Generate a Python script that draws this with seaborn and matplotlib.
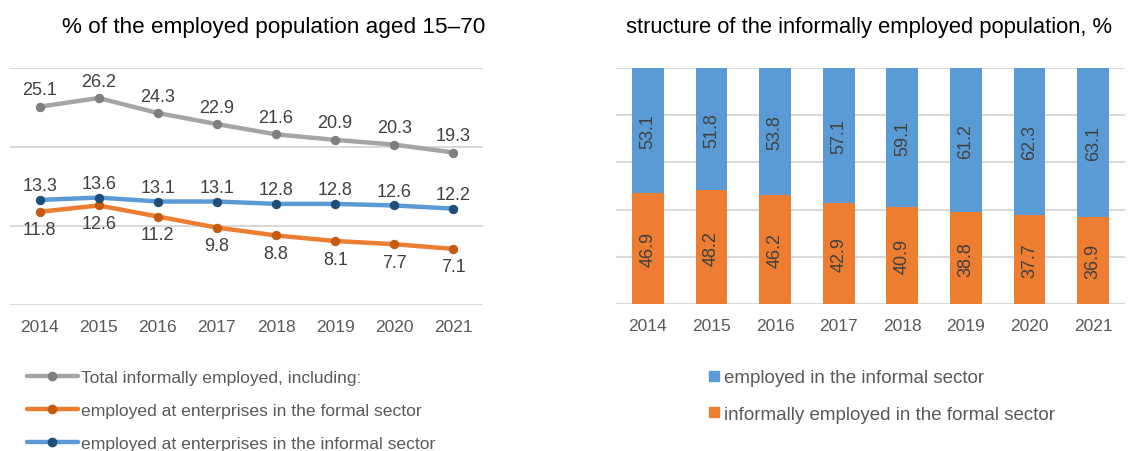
import matplotlib
matplotlib.use("Agg")
import matplotlib.pyplot as plt
from matplotlib.lines import Line2D
import seaborn as sns
import pandas as pd

years = [2014, 2015, 2016, 2017, 2018, 2019, 2020, 2021]
year_labels = [str(y) for y in years]

# % of the employed population aged 15-70
total_informal = [25.1, 26.2, 24.3, 22.9, 21.6, 20.9, 20.3, 19.3]
formal_sector = [11.8, 12.6, 11.2, 9.8, 8.8, 8.1, 7.7, 7.1]
informal_sector = [13.3, 13.6, 13.1, 13.1, 12.8, 12.8, 12.6, 12.2]

# structure of the informally employed population, %
share_informal_sector = [53.1, 51.8, 53.8, 57.1, 59.1, 61.2, 62.3, 63.1]
share_formal_sector = [46.9, 48.2, 46.2, 42.9, 40.9, 38.8, 37.7, 36.9]

line_names = [
    "Total informally employed, including:",
    "employed at enterprises in the formal sector",
    "employed at enterprises in the informal sector",
]
bar_names = ["employed in the informal sector", "informally employed in the formal sector"]

GREY, GREY_D = "#A5A5A5", "#7F7F7F"
ORANGE, ORANGE_D = "#ED7D31", "#C55A11"
BLUE, BLUE_D = "#5B9BD5", "#1F4E79"
TEXT = "#595959"
LABEL = "#404040"
GRID = "#D9D9D9"

sns.set_theme(style="white")
plt.rcParams["font.family"] = ["Liberation Sans", "DejaVu Sans"]

W, H = 1137, 452
fig = plt.figure(figsize=(W / 100, H / 100), dpi=100)
ax1 = fig.add_axes([10 / W, 1 - 306 / H, 473 / W, 237 / H])
ax2 = fig.add_axes([616 / W, 1 - 305 / H, 509 / W, 236 / H])

# ---- left: line chart ----
series = [
    (total_informal, GREY, GREY_D, 17),
    (formal_sector, ORANGE, ORANGE_D, -18),
    (informal_sector, BLUE, BLUE_D, 14),
]
for vals, col, mcol, dy in series:
    df = pd.DataFrame({"year": years, "value": vals})
    sns.lineplot(data=df, x="year", y="value", ax=ax1, color=col, linewidth=3.2,
                 marker="o", markersize=6, markerfacecolor=mcol, markeredgecolor=mcol,
                 solid_capstyle="round")
    for x, v in zip(years, vals):
        ax1.annotate(f"{v:.1f}", (x, v), xytext=(0, dy), textcoords="offset pixels",
                     ha="center", va="center", fontsize=13, color=LABEL)

ax1.set_xlim(2013.5, 2021.5)
ax1.set_ylim(0, 30)
ax1.set_yticks([0, 10, 20, 30])
ax1.set_yticklabels([])
ax1.set_xticks(years)
ax1.set_xticklabels(year_labels, fontsize=12.5, color=TEXT)
ax1.set_xlabel("")
ax1.set_ylabel("")
ax1.grid(axis="y", color=GRID, linewidth=1.5)
ax1.set_axisbelow(True)
for s in ax1.spines.values():
    s.set_visible(False)
ax1.tick_params(axis="both", length=0, pad=10)

fig.text(273.5 / W, 1 - 27 / H, "% of the employed population aged 15\u201370",
         fontsize=16.2, color="black", ha="center", va="center")

handles = [
    Line2D([], [], color=c, lw=3.2, marker="o", markersize=6, markerfacecolor=m,
           markeredgecolor=m, solid_capstyle="round")
    for c, m in [(GREY, GREY_D), (ORANGE, ORANGE_D), (BLUE, BLUE_D)]
]
leg1 = fig.legend(handles, line_names, loc="upper left", bbox_to_anchor=(27 / W, 1 - 371 / H),
                  frameon=False, fontsize=12.6, handlelength=2.9, handletextpad=0.2,
                  labelspacing=1.0, borderaxespad=0, borderpad=0)
for t in leg1.get_texts():
    t.set_color(TEXT)

# ---- right: 100% stacked bars ----
bdf = pd.DataFrame({"year": year_labels,
                    "informal": share_informal_sector,
                    "formal": share_formal_sector})
bdf["stack_top"] = bdf["informal"] + bdf["formal"]
sns.barplot(data=bdf, x="year", y="stack_top", ax=ax2, color=BLUE, width=0.5,
            saturation=1, edgecolor="none")
sns.barplot(data=bdf, x="year", y="formal", ax=ax2, color=ORANGE, width=0.5,
            saturation=1, edgecolor="none")
for i, (fv, iv) in enumerate(zip(share_formal_sector, share_informal_sector)):
    ax2.text(i, fv / 2, f"{fv:.1f}", rotation=90, ha="center", va="center",
             fontsize=13, color=LABEL)
    ax2.text(i, fv + iv / 2, f"{iv:.1f}", rotation=90, ha="center", va="center",
             fontsize=13, color=LABEL)

ax2.set_xlim(-0.5, 7.5)
ax2.set_ylim(0, 100)
ax2.set_yticks([0, 20, 40, 60, 80, 100])
ax2.set_yticklabels([])
ax2.set_xlabel("")
ax2.set_ylabel("")
ax2.tick_params(axis="x", labelsize=12.5, labelcolor=TEXT, length=0, pad=10)
ax2.tick_params(axis="y", length=0)
ax2.grid(axis="y", color=GRID, linewidth=1.5)
ax2.set_axisbelow(True)
for s in ax2.spines.values():
    s.set_visible(False)

fig.text(869 / W, 1 - 27 / H, "structure of the informally employed population, %",
         fontsize=15.8, color="black", ha="center", va="center")

bar_handles = [
    Line2D([], [], ls="none", marker="s", markersize=7, markerfacecolor=c, markeredgecolor=c)
    for c in (BLUE, ORANGE)
]
leg2 = fig.legend(bar_handles, bar_names, loc="upper left", bbox_to_anchor=(707 / W, 1 - 370 / H),
                  frameon=False, fontsize=13.5, handlelength=0.75, handletextpad=0.15,
                  labelspacing=1.05, borderaxespad=0, borderpad=0)
for t in leg2.get_texts():
    t.set_color(TEXT)

fig.savefig("out.png", dpi=100)
